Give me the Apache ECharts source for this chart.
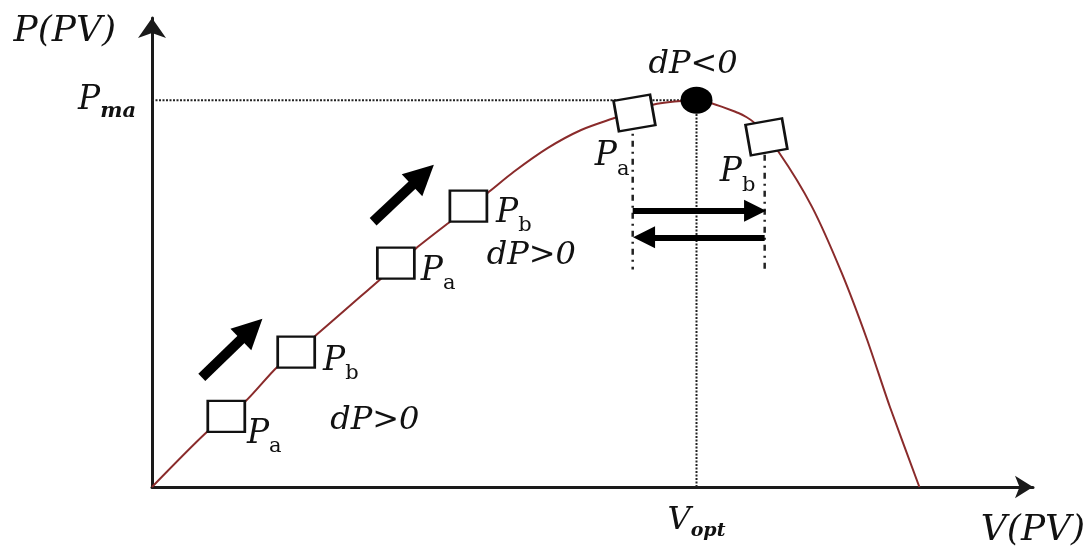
<!DOCTYPE html>
<html>
<head>
<meta charset="utf-8">
<script src="https://cdn.jsdelivr.net/npm/echarts@6/dist/echarts.min.js"></script>
<style>
html,body{margin:0;padding:0;background:#fff;}
#chart{width:1090px;height:551px;}
</style>
</head>
<body>
<div id="chart"></div>
<script>
// ---- data (arbitrary units) ----
const curveV = [0, 6.4, 10.7, 14.3, 18.6, 26.2, 30.2, 34.1, 38.4, 41.4, 45.3, 49.1, 52.9, 57.3, 62.3, 67.1, 68.9, 71.7, 75.5, 78.9, 81.8, 84.4, 87.8];
const curveP = [0, 12.2, 18.7, 26.1, 32.8, 45.4, 52.0, 57.8, 64.1, 68.7, 73.9, 77.8, 80.4, 83.3, 84.3, 81.5, 79.4, 73.0, 61.1, 46.7, 32.2, 17.6, 0];

const squareV = [8.5, 16.5, 27.9, 36.2, 55.2, 70.3];
const squareP = [15.4, 29.4, 48.8, 61.2, 81.5, 76.3];
const squareTilt = [0, 0, 0, 0, 10, 10];

const vOpt = 62.3;
const pMax = 84.3;
const vAxisMax = 100.8;
const pAxisMax = 102.2;

const pointNames = ['a', 'b', 'a', 'b', 'a', 'b'];
const pointLabelV = [10.8, 19.5, 30.7, 39.3, 50.6, 64.9];
const pointLabelP = [11.5, 27.4, 47.0, 59.6, 72.0, 68.5];

const dpTexts = ['dP<0', 'dP>0', 'dP>0'];
const dpV = [61.9, 25.5, 43.4];
const dpP = [92.0, 14.4, 50.4];

// arrows: [v0, p0, v1, p1] (tail -> head centre)
const diagArrows = [[5.7, 23.9, 11.4, 34.4], [25.3, 57.8, 31.0, 68.0]];
const horizArrows = [[55.0, 60.2, 69.0, 60.2], [70.1, 54.4, 56.3, 54.4]];

// guide segments
const paLineV = 55.0, paLineTop = 83.3, paLineBottom = 47.4;
const pbLineV = 70.1, pbLineTop = 76.3, pbLineBottom = 47.4;

const axisTitleX = 'V(PV)';
const axisTitleY = 'P(PV)';
const pmaLabel = ['P', 'ma'];
const voptLabel = ['V', 'opt'];

// ---- chart ----
const serif = 'DejaVu Serif';
const ink = '#111111';
const chart = echarts.init(document.getElementById('chart'), null, {renderer: 'canvas'});

const curveData = curveV.map((v, i) => [v, curveP[i]]);
const squareData = squareV.map((v, i) => ({value: [v, squareP[i]], symbolRotate: squareTilt[i]}));
const pointLabelData = pointLabelV.map((v, i) => ({value: [v, pointLabelP[i]], name: pointNames[i]}));
const dpData = dpV.map((v, i) => ({value: [v, dpP[i]], name: dpTexts[i]}));

const toLines = arr => arr.map(a => ({coords: [[a[0], a[1]], [a[2], a[3]]]}));

const option = {
  animation: false,
  backgroundColor: '#ffffff',
  grid: {left: 152, right: 57, top: 18, bottom: 64, containLabel: false, outerBoundsMode: 'none'},
  xAxis: {
    type: 'value', min: 0, max: vAxisMax,
    splitLine: {show: false},
    axisTick: {show: false},
    axisLine: {show: true, lineStyle: {color: '#1a1a1a', width: 3}, symbol: ['none', 'arrow'], symbolSize: [17, 18]},
    axisLabel: {
      show: true, customValues: [vOpt], margin: 14,
      formatter: () => '{v|' + voptLabel[0] + '}{s|' + voptLabel[1] + '}',
      rich: {
        v: {fontFamily: serif, fontStyle: 'italic', fontSize: 32, color: ink, lineHeight: 34, verticalAlign: 'middle'},
        s: {fontFamily: serif, fontStyle: 'italic', fontWeight: 'bold', fontSize: 19, color: ink, lineHeight: 40, verticalAlign: 'bottom'}
      }
    },
    name: axisTitleX, nameLocation: 'end', nameGap: 0,
    nameTextStyle: {fontFamily: serif, fontStyle: 'italic', fontSize: 36, color: ink, align: 'center', verticalAlign: 'top', padding: [26, 0, 0, 0]}
  },
  yAxis: {
    type: 'value', min: 0, max: pAxisMax,
    splitLine: {show: false},
    axisTick: {show: false},
    axisLine: {show: true, lineStyle: {color: '#1a1a1a', width: 3}, symbol: ['none', 'arrow'], symbolSize: [21, 20]},
    axisLabel: {
      show: true, customValues: [pMax], margin: 16,
      formatter: () => '{p|' + pmaLabel[0] + '}{s|' + pmaLabel[1] + '}',
      rich: {
        p: {fontFamily: serif, fontStyle: 'italic', fontSize: 33, color: ink, lineHeight: 36, verticalAlign: 'middle'},
        s: {fontFamily: serif, fontStyle: 'italic', fontWeight: 'bold', fontSize: 21, color: ink, lineHeight: 44, verticalAlign: 'bottom'}
      }
    },
    name: axisTitleY, nameLocation: 'end', nameGap: 0,
    nameTextStyle: {fontFamily: serif, fontStyle: 'italic', fontSize: 36, color: ink, align: 'right', verticalAlign: 'bottom', padding: [0, 36, -32, 0]}
  },
  series: [
    // Pmax horizontal dotted guide
    {type: 'line', silent: true, symbol: 'none', z: 2,
     data: [[0, pMax], [vOpt, pMax]],
     lineStyle: {color: '#222', width: 2, type: [2, 1.5]}},
    // Vopt vertical dotted guide
    {type: 'line', silent: true, symbol: 'none', z: 2,
     data: [[vOpt, 0], [vOpt, pMax]],
     lineStyle: {color: '#222', width: 2, type: [2, 1.5]}},
    // Pa / Pb dash-dot guides
    {type: 'line', silent: true, symbol: 'none', z: 2,
     data: [[paLineV, paLineTop], [paLineV, paLineBottom]],
     lineStyle: {color: '#222', width: 2.5, type: [6, 5, 2, 5]}},
    {type: 'line', silent: true, symbol: 'none', z: 2,
     data: [[pbLineV, pbLineTop], [pbLineV, pbLineBottom]],
     lineStyle: {color: '#222', width: 2.5, type: [6, 5, 2, 5]}},
    // P-V curve
    {type: 'line', silent: true, symbol: 'none', smooth: 0.25, z: 3,
     data: curveData,
     lineStyle: {color: '#8a2b2b', width: 2}},
    // sample squares
    {type: 'scatter', silent: true, symbol: 'rect', symbolSize: [37, 31], z: 5,
     data: squareData,
     itemStyle: {color: '#ffffff', borderColor: ink, borderWidth: 2.5, opacity: 1}},
    // maximum point
    {type: 'scatter', silent: true, symbol: 'circle', symbolSize: [32, 27], z: 6,
     data: [[vOpt, pMax]],
     itemStyle: {color: '#000', opacity: 1}},
    // Pa / Pb labels
    {type: 'scatter', silent: true, symbolSize: 1, z: 7,
     data: pointLabelData,
     itemStyle: {color: 'rgba(0,0,0,0)', opacity: 1},
     label: {show: true, position: 'right', distance: 0, opacity: 1,
       formatter: p => '{p|P}{s|' + p.name + '}',
       rich: {
         p: {fontFamily: serif, fontStyle: 'italic', fontSize: 33, color: ink, lineHeight: 34, verticalAlign: 'middle'},
         s: {fontFamily: serif, fontSize: 21, color: ink, lineHeight: 46, verticalAlign: 'bottom'}
       }}},
    // dP texts
    {type: 'scatter', silent: true, symbolSize: 1, z: 7,
     data: dpData,
     itemStyle: {color: 'rgba(0,0,0,0)', opacity: 1},
     label: {show: true, position: 'inside', formatter: p => p.name, opacity: 1,
       fontFamily: serif, fontStyle: 'italic', fontSize: 32, color: ink}},
    // diagonal arrows
    {type: 'lines', coordinateSystem: 'cartesian2d', silent: true, z: 4,
     data: toLines(diagArrows),
     symbol: ['none', 'triangle'], symbolSize: 30,
     lineStyle: {color: '#000', width: 10, opacity: 1, curveness: 0}},
    // horizontal arrows
    {type: 'lines', coordinateSystem: 'cartesian2d', silent: true, z: 4,
     data: toLines(horizArrows),
     symbol: ['none', 'triangle'], symbolSize: 22,
     lineStyle: {color: '#000', width: 6, opacity: 1, curveness: 0}}
  ]
};
chart.setOption(option);
</script>
</body>
</html>
